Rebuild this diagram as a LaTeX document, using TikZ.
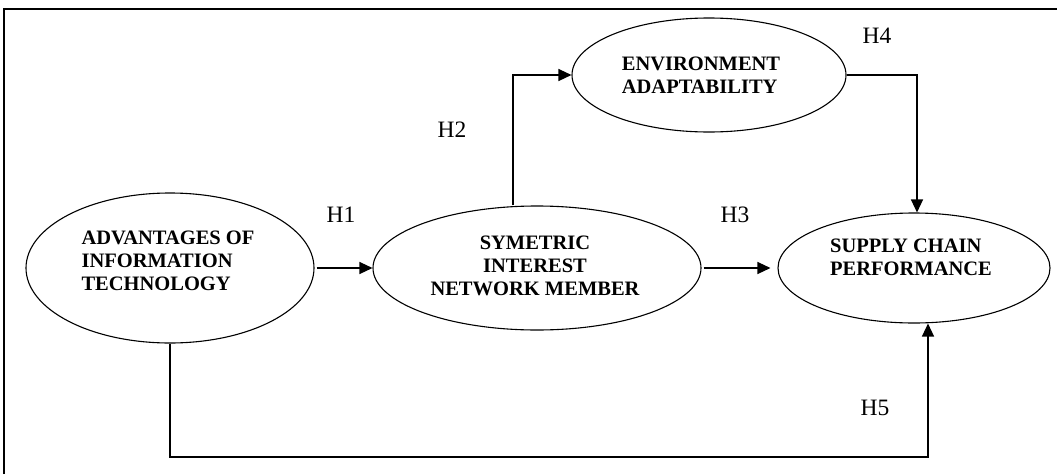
\documentclass[tikz,border=0pt]{standalone}
\usepackage{fontspec}
\setmainfont{Liberation Serif}
\usetikzlibrary{shapes.geometric,arrows.meta}
\tikzset{
  ell/.style={draw, ellipse, line width=1.1pt, inner sep=0pt},
  ntext/.style={font=\fontsize{20.5}{23}\selectfont\bfseries, align=left, inner sep=0pt},
  ctext/.style={font=\fontsize{20.5}{23}\selectfont\bfseries, align=center, inner sep=0pt},
  hlab/.style={font=\fontsize{23.5}{25}\selectfont, inner sep=0pt},
  conn/.style={line width=1.3pt, -{Triangle[length=13pt,width=12pt]}},
}
\begin{document}
\begin{tikzpicture}[x=1pt,y=-1pt]
\useasboundingbox (0,0) rectangle (1057,474);
% frame
\draw[line width=1.3pt] (4,474) -- (4,9) -- (1057,9);
% ellipses
\node[ell, minimum width=288pt, minimum height=150pt] (adv) at (170,268) {};
\node[ell, minimum width=328pt, minimum height=124pt] (sym) at (537,268) {};
\node[ell, minimum width=274pt, minimum height=114pt] (env) at (709,75) {};
\node[ell, minimum width=272pt, minimum height=110pt] (sup) at (914,268) {};
% texts
\node[ntext] (advt) at (168,261) {ADVANTAGES OF\\INFORMATION\\TECHNOLOGY};
\node[ctext] (symt) at (535,266) {SYMETRIC\\INTEREST\\NETWORK MEMBER};
\node[ntext] (envt) at (701,75) {ENVIRONMENT\\ADAPTABILITY};
\node[ntext] (supt) at (911,257) {SUPPLY CHAIN\\PERFORMANCE};
% labels
\node[hlab] (h1) at (341,215) {H1};
\node[hlab] (h2) at (452,130) {H2};
\node[hlab] (h3) at (735,215) {H3};
\node[hlab] (h4) at (877,36) {H4};
\node[hlab] (h5) at (875,408) {H5};
% connectors
\coordinate (c2) at (513,75);
\coordinate (c4) at (917,75);
\coordinate (c5a) at (170,457);
\coordinate (c5b) at (928,457);
\draw[conn, shorten <=2pt] (adv.east) -- (sym.west);
\draw[conn, shorten <=2pt, shorten >=7pt] (sym.east) -- (sup.west);
\draw[conn] (c2 |- sym.north) -- (c2) -- (env.west);
\draw[conn] (env.east) -- (c4) -- (c4 |- sup.north);
\draw[conn] (adv.south) -- (c5a) -- (c5b) -- (c5b |- sup.south);
\end{tikzpicture}
\end{document}
